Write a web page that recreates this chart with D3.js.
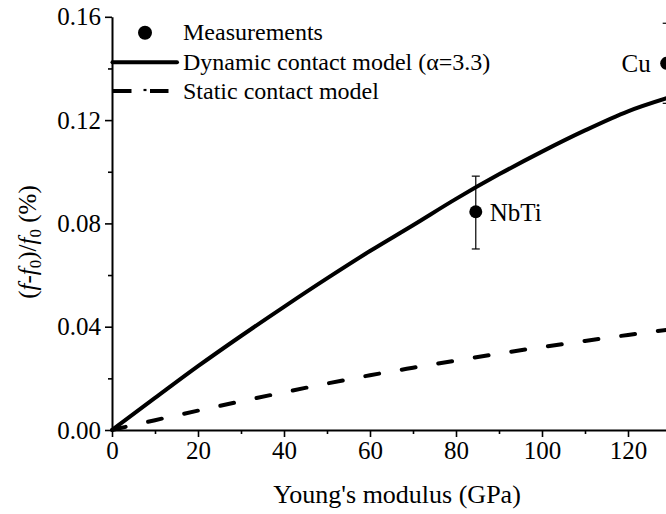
<!DOCTYPE html>
<html>
<head>
<meta charset="utf-8">
<script src="https://cdn.jsdelivr.net/npm/d3@7"></script>
<style>
  html, body { margin: 0; padding: 0; background: #fff; }
  svg { display: block; }
  text { font-family: "Liberation Serif", "Times New Roman", serif; fill: #000; }
</style>
</head>
<body>
<svg id="chart" width="666" height="514"></svg>
<script>
// ---- data ----
const modulus = [0, 10, 20, 30, 40, 50, 60, 70, 80, 90, 100, 110, 120, 130];
const dynamicModel = [0, 0.0124, 0.0247, 0.0364, 0.0477, 0.0587, 0.0693, 0.0793, 0.0895, 0.0990, 0.1078, 0.1160, 0.1234, 0.1290];
const staticModel = [0, 0.0038, 0.0075, 0.0111, 0.0146, 0.0180, 0.0212, 0.0241, 0.0269, 0.0296, 0.0321, 0.0345, 0.0368, 0.0390];

const materials = ["NbTi", "Cu"];
const measModulus = [84.6, 129.0];
const measShift = [0.0845, 0.142];
const measLow = [0.0701, 0.1265];
const measHigh = [0.0983, 0.1575];

const xTicks = [0, 20, 40, 60, 80, 100, 120];
const xMinorTicks = [10, 30, 50, 70, 90, 110, 130];
const yTicks = [0.00, 0.04, 0.08, 0.12, 0.16];
const yMinorTicks = [0.02, 0.06, 0.10, 0.14];

const legendLabels = ["Measurements", "Dynamic contact model (\u03B1=3.3)", "Static contact model"];

// ---- layout ----
const svg = d3.select("#chart");
const x = d3.scaleLinear().domain([0, 130]).range([112, 671]);
const y = d3.scaleLinear().domain([0, 0.16]).range([430, 16.8]);

// axes
const gx = svg.append("g").attr("transform", "translate(0,430)");
gx.call(d3.axisBottom(x).tickValues(xTicks).tickFormat(d3.format("d")).tickSize(7).tickSizeOuter(0).tickPadding(4));
const gxm = svg.append("g").attr("transform", "translate(0,430)");
gxm.call(d3.axisBottom(x).tickValues(xMinorTicks).tickFormat("").tickSize(4).tickSizeOuter(0));
gxm.select(".domain").remove();

const gy = svg.append("g").attr("transform", "translate(112,0)");
gy.call(d3.axisLeft(y).tickValues(yTicks).tickFormat(d3.format(".2f")).tickSize(7).tickSizeOuter(0).tickPadding(4));
const gym = svg.append("g").attr("transform", "translate(112,0)");
gym.call(d3.axisLeft(y).tickValues(yMinorTicks).tickFormat("").tickSize(4).tickSizeOuter(0));
gym.select(".domain").remove();

svg.selectAll(".domain").attr("stroke", "#000").attr("stroke-width", 2);
svg.selectAll(".tick line").attr("stroke", "#000").attr("stroke-width", 1.6);
svg.selectAll(".tick text").attr("font-family", "Liberation Serif, Times New Roman, serif")
  .attr("font-size", 25).attr("fill", "#000");

// axis titles
svg.append("text")
  .attr("x", 397).attr("y", 503)
  .attr("text-anchor", "middle")
  .attr("font-size", 26)
  .text("Young's modulus (GPa)");

const yt = svg.append("text")
  .attr("transform", "translate(36,242) rotate(-90)")
  .attr("text-anchor", "middle")
  .attr("font-size", 25);
yt.append("tspan").text("(");
yt.append("tspan").attr("font-style", "italic").text("f");
yt.append("tspan").text("-");
yt.append("tspan").attr("font-style", "italic").text("f");
yt.append("tspan").attr("font-size", 17).attr("dy", 5).text("0");
yt.append("tspan").attr("dy", -5).text(")/");
yt.append("tspan").attr("font-style", "italic").text("f");
yt.append("tspan").attr("font-size", 17).attr("dy", 5).text("0");
yt.append("tspan").attr("dy", -5).text(" (%)");

// model curves
const line = d3.line().x((d, i) => x(modulus[i])).y(d => y(d)).curve(d3.curveMonotoneX);

svg.append("path")
  .attr("d", line(staticModel))
  .attr("fill", "none").attr("stroke", "#000").attr("stroke-width", 4)
  .attr("stroke-linecap", "round")
  .attr("stroke-dasharray", "14,23");

svg.append("path")
  .attr("d", line(dynamicModel))
  .attr("fill", "none").attr("stroke", "#000").attr("stroke-width", 4);

// measurements with error bars
const meas = materials.map((m, i) => ({ name: m, x: measModulus[i], y: measShift[i], lo: measLow[i], hi: measHigh[i] }));
const mg = svg.selectAll(".meas").data(meas).enter().append("g").attr("class", "meas");
mg.append("line")
  .attr("x1", d => x(d.x)).attr("x2", d => x(d.x))
  .attr("y1", d => y(d.lo)).attr("y2", d => y(d.hi))
  .attr("stroke", "#000").attr("stroke-width", 1.2);
mg.append("line")
  .attr("x1", d => x(d.x) - 4).attr("x2", d => x(d.x) + 4)
  .attr("y1", d => y(d.lo)).attr("y2", d => y(d.lo))
  .attr("stroke", "#000").attr("stroke-width", 1.2);
mg.append("line")
  .attr("x1", d => x(d.x) - 4).attr("x2", d => x(d.x) + 4)
  .attr("y1", d => y(d.hi)).attr("y2", d => y(d.hi))
  .attr("stroke", "#000").attr("stroke-width", 1.2);
mg.append("circle")
  .attr("cx", d => x(d.x)).attr("cy", d => y(d.y)).attr("r", 6.5)
  .attr("fill", "#000");
mg.append("text")
  .attr("x", d => d.name === "Cu" ? x(d.x) - 16 : x(d.x) + 14)
  .attr("y", d => y(d.y) + 9)
  .attr("text-anchor", d => d.name === "Cu" ? "end" : "start")
  .attr("font-size", 25)
  .text(d => d.name);

// legend
const lg = svg.append("g");
lg.append("circle").attr("cx", 145).attr("cy", 32.7).attr("r", 7).attr("fill", "#000");
lg.append("line").attr("x1", 112.5).attr("x2", 177).attr("y1", 62.3).attr("y2", 62.3)
  .attr("stroke", "#000").attr("stroke-width", 4).attr("stroke-linecap", "round");
lg.append("line").attr("x1", 112.5).attr("x2", 131.5).attr("y1", 91).attr("y2", 91)
  .attr("stroke", "#000").attr("stroke-width", 4);
lg.append("line").attr("x1", 143.5).attr("x2", 146.5).attr("y1", 90).attr("y2", 90)
  .attr("stroke", "#000").attr("stroke-width", 2.2);
lg.append("line").attr("x1", 150).attr("x2", 168.5).attr("y1", 91).attr("y2", 91)
  .attr("stroke", "#000").attr("stroke-width", 4);
const legendY = [39.5, 70, 98.7];
lg.selectAll("text.leg").data(legendLabels).enter().append("text")
  .attr("class", "leg")
  .attr("x", 183).attr("y", (d, i) => legendY[i])
  .attr("font-size", 24)
  .text(d => d);
</script>
</body>
</html>
